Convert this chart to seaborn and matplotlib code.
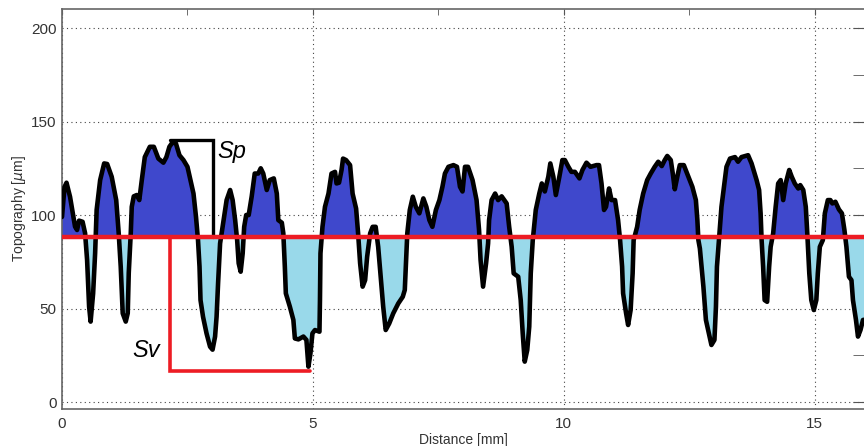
import numpy as np
import pandas as pd
import matplotlib
matplotlib.use("Agg")
import matplotlib.pyplot as plt
import seaborn as sns
from matplotlib.ticker import MultipleLocator

# profile
dist_mm = [0.00, 0.05, 0.09, 0.16, 0.26, 0.30, 0.34, 0.41, 0.46, 0.50, 0.54, 0.57, 0.62, 0.66, 0.69,
           0.76, 0.84, 0.90, 0.99, 1.08, 1.13, 1.17, 1.21, 1.27, 1.31, 1.33, 1.37, 1.39, 1.43, 1.49,
           1.54, 1.59, 1.65, 1.75, 1.83, 1.92, 2.02, 2.08, 2.14, 2.20, 2.27, 2.34, 2.42, 2.50, 2.56,
           2.62, 2.67, 2.71, 2.74, 2.76, 2.81, 2.88, 2.95, 3.00, 3.05, 3.08, 3.11, 3.15, 3.20, 3.28,
           3.35, 3.40, 3.45, 3.49, 3.52, 3.56, 3.60, 3.63, 3.67, 3.72, 3.78, 3.84, 3.91, 3.96, 4.01,
           4.08, 4.14, 4.22, 4.28, 4.31, 4.38, 4.41, 4.44, 4.46, 4.54, 4.61, 4.64, 4.71, 4.81, 4.87,
           4.91, 4.95, 4.99, 5.04, 5.13, 5.14, 5.15, 5.19, 5.24, 5.31, 5.37, 5.44, 5.47, 5.52, 5.57,
           5.60, 5.66, 5.74, 5.79, 5.86, 5.90, 5.94, 5.99, 6.04, 6.08, 6.14, 6.19, 6.25, 6.30, 6.35,
           6.40, 6.45, 6.52, 6.60, 6.70, 6.79, 6.83, 6.85, 6.88, 6.93, 6.99, 7.05, 7.12, 7.20, 7.26,
           7.32, 7.38, 7.45, 7.52, 7.58, 7.63, 7.70, 7.80, 7.87, 7.93, 7.98, 8.03, 8.09, 8.18, 8.26,
           8.31, 8.34, 8.39, 8.45, 8.49, 8.51, 8.56, 8.63, 8.69, 8.76, 8.86, 8.91, 8.96, 9.00, 9.09,
           9.14, 9.18, 9.22, 9.27, 9.31, 9.34, 9.38, 9.44, 9.51, 9.56, 9.62, 9.69, 9.73, 9.79, 9.84,
           9.91, 9.97, 10.02, 10.09, 10.15, 10.22, 10.31, 10.37, 10.45, 10.53, 10.65, 10.70, 10.75,
           10.80, 10.84, 10.90, 10.95, 11.02, 11.08, 11.12, 11.16, 11.18, 11.24, 11.28, 11.33, 11.37,
           11.39, 11.46, 11.51, 11.58, 11.66, 11.73, 11.81, 11.88, 11.95, 12.01, 12.06, 12.13, 12.17,
           12.21, 12.26, 12.31, 12.39, 12.48, 12.56, 12.63, 12.66, 12.68, 12.71, 12.78, 12.83, 12.89,
           12.94, 13.00, 13.03, 13.05, 13.09, 13.14, 13.19, 13.24, 13.31, 13.41, 13.47, 13.54, 13.67,
           13.74, 13.84, 13.89, 13.92, 13.94, 13.97, 14.00, 14.05, 14.09, 14.12, 14.17, 14.22, 14.27,
           14.32, 14.37, 14.42, 14.49, 14.54, 14.60, 14.67, 14.71, 14.77, 14.82, 14.85, 14.89, 14.93,
           14.98, 15.03, 15.06, 15.10, 15.16, 15.20, 15.26, 15.31, 15.35, 15.41, 15.48, 15.54, 15.59,
           15.63, 15.68, 15.73, 15.76, 15.82, 15.86, 15.91, 15.96, 16.00]
topo_um = [99, 115, 117.3, 109.8, 93.8, 92, 97, 96.4, 90.3, 76, 51, 43, 58, 79.6, 102.7,
           118.7, 127.6, 127.3, 120.5, 108, 90.2, 72.4, 47.4, 43, 47.5, 69, 90.3, 104.4, 110, 110.7,
           108, 118.7, 131, 136.5, 136.5, 130.2, 128, 131, 136.5, 138.8, 138.3, 132, 129.4, 125.8, 118.7,
           111.5, 99, 86.6, 72.4, 54.5, 45.6, 36.7, 29.6, 28, 35, 45.6, 63.5, 84.8, 93.7, 108,
           113.4, 108, 97.3, 86.6, 74.2, 69.7, 79.5, 93.7, 100, 100, 110, 122.2, 122.2, 125, 122.2,
           113.4, 118.7, 119.6, 111.5, 97.3, 95.9, 90.2, 72.4, 58.1, 51, 43.9, 34, 33.5, 35, 33.2,
           18.9, 26, 36.7, 38.5, 37.6, 54.5, 79.5, 93.7, 104.4, 111.5, 122.2, 123.1, 116.9, 117.3, 124.1,
           130.2, 129.4, 126.7, 111.5, 103.5, 90.2, 74.2, 61.7, 65.2, 77.7, 90.2, 93.7, 93.7, 83, 67,
           51, 38.5, 42, 47.4, 52.7, 56.3, 59.9, 72.4, 90.2, 102.7, 109.8, 104.4, 100.9, 108.9, 104.4,
           97.3, 93.7, 102.7, 108, 115.1, 122.2, 125.8, 126.7, 125.8, 115.1, 112.6, 125.8, 125.8, 118.7, 108,
           92, 76, 61.7, 74.2, 84.8, 97.3, 108, 111.5, 108, 110, 106.2, 93.7, 83, 68.8, 67,
           54.5, 36.7, 21.6, 27.8, 40.3, 68.8, 86.6, 102.7, 111.5, 116.9, 112.6, 120.5, 127.6, 120.5, 110.7,
           120.5, 129.4, 129.4, 125.8, 123.1, 123.1, 119.6, 124.1, 128, 125.8, 126.7, 126.7, 116.9,
           102.7, 104.4, 114.2, 108, 108, 97.3, 86.6, 72.4, 58.1, 47.4, 41.2, 49.2, 68.8,
           86.6, 93.7, 102.7, 111.5, 118.7, 122.2, 125.8, 128.5, 126.2, 129.4, 131.6, 129.4, 122.2,
           113.8, 120.5, 126.7, 126.7, 120.5, 115.1, 108, 97.3, 86.6, 82.1, 61.7, 43.9, 36.7,
           30.5, 33.2, 51, 72.4, 86.6, 104.4, 115.1, 125.8, 130.2, 131, 128.5, 131, 132,
           127.6, 118.7, 113.4, 100.9, 86.6, 72.4, 54.5, 53.6, 72.4, 83, 90.2, 104.4, 116.9,
           118.7, 108, 116.9, 124.1, 120.5, 116.9, 114.2, 116, 113.4, 104.4, 90.2, 68.8, 54.5,
           49.2, 54.5, 68.8, 83, 86.6, 100.9, 108, 108, 106.2, 107.1, 103, 100.9, 92,
           83, 67, 65.2, 54.5, 43.9, 35, 38.5, 43.9, 44]

mean_level = 88
sp_level = 140
sv_level = 16.6
sp_x = [2.15, 3.0]
sv_x = [2.15, 4.94]

df = pd.DataFrame({"dist": dist_mm, "topo": topo_um})

sns.set_style("white")
plt.rcParams["font.family"] = ["Liberation Sans", "DejaVu Sans"]

fig = plt.figure(figsize=(8.64, 4.46), dpi=100)
ax = fig.add_axes([62 / 864, 37 / 446, 803 / 864, 400 / 446])

x = df["dist"].values
y = df["topo"].values
ax.fill_between(x, y, mean_level, where=y >= mean_level, interpolate=True,
                color="#3F48CC", linewidth=0, zorder=2)
ax.fill_between(x, y, mean_level, where=y <= mean_level, interpolate=True,
                color="#99D9EA", linewidth=0, zorder=2)
sns.lineplot(data=df, x="dist", y="topo", color="black", linewidth=3.3,
             estimator=None, sort=False, ax=ax, zorder=3)

# Sp and Sv markers
ax.plot([sp_x[0], sp_x[1], sp_x[1]], [sp_level, sp_level, mean_level],
        color="black", linewidth=2.4, zorder=4, solid_joinstyle="miter")
ax.axhline(mean_level, color="#ED1C24", linewidth=3.2, zorder=5)
ax.plot([sv_x[0], sv_x[0], sv_x[1]], [mean_level, sv_level, sv_level],
        color="#ED1C24", linewidth=2.6, zorder=5, solid_joinstyle="miter")
ax.text(3.1, 130.5, "Sp", fontsize=17, style="italic", color="black",
        ha="left", va="baseline", zorder=6)
ax.text(1.40, 24.3, "Sv", fontsize=17, style="italic", color="black",
        ha="left", va="baseline", zorder=6)

ax.set_xlim(0, 16)
ax.set_ylim(-3.74, 210.2)
ax.xaxis.set_major_locator(MultipleLocator(5))
ax.xaxis.set_minor_locator(MultipleLocator(2.5))
ax.yaxis.set_major_locator(MultipleLocator(50))
ax.yaxis.set_minor_locator(MultipleLocator(25))
ax.grid(True, which="major", linestyle=(0, (1, 3)), color="#444444", linewidth=0.8, zorder=1)
ax.set_axisbelow(True)

ax.tick_params(which="both", direction="in", top=True, right=True, color="#555555",
               labelsize=11, labelcolor="#333333")
ax.tick_params(axis="x", which="both", length=4.5, pad=6)
ax.tick_params(axis="y", which="both", length=8.5, pad=4)
for s in ax.spines.values():
    s.set_color("#666666")
    s.set_linewidth(1.2)

ax.set_xlabel("Distance [mm]", fontsize=10, color="#333333", labelpad=1)
ax.set_ylabel("Topography [$\\mu$m]", fontsize=10, color="#333333", labelpad=2)

fig.savefig("out.png", dpi=100)
